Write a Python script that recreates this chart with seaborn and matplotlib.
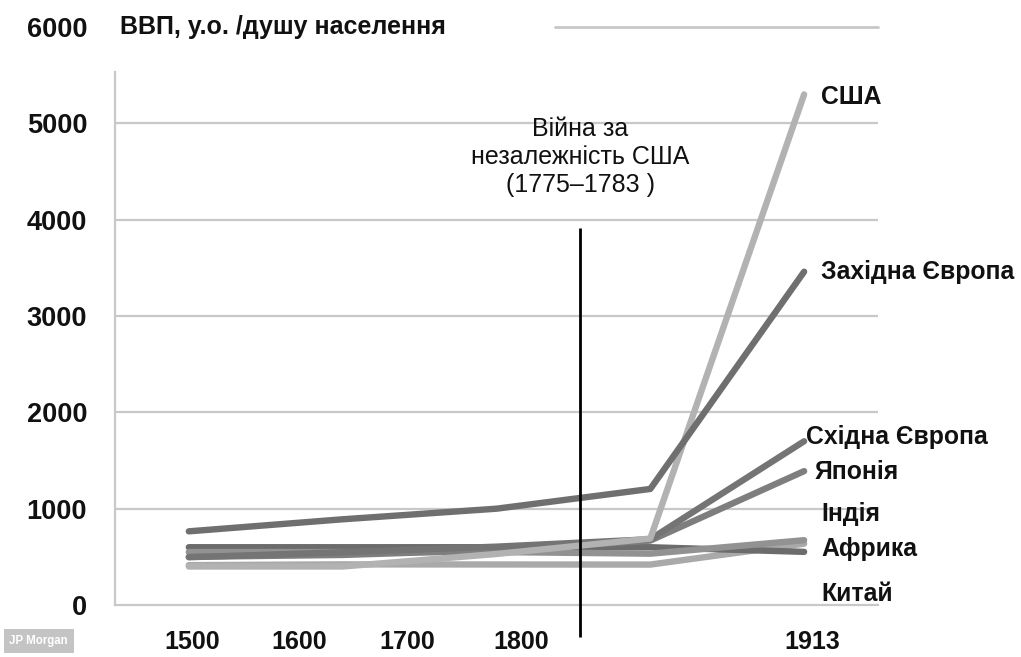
import numpy as np
import pandas as pd
import matplotlib
matplotlib.use("Agg")
import matplotlib.pyplot as plt
import seaborn as sns

# data (GDP per capita, by period)
years = ["1500", "1600", "1700", "1800", "1913"]
usa = [400, 400, 530, 690, 5300]
west_europe = [765, 890, 1000, 1205, 3460]
east_europe = [496, 548, 606, 683, 1700]
japan = [500, 520, 570, 669, 1390]
india = [550, 550, 550, 533, 673]
africa = [414, 422, 421, 420, 637]
china = [600, 600, 600, 600, 552]

regions = ["Африка", "Китай", "Індія", "Японія", "Східна Європа", "США", "Західна Європа"]
series = [africa, china, india, japan, east_europe, usa, west_europe]

colors = {
    "Африка": "#a9a9a9",
    "Китай": "#6c6c6c",
    "Індія": "#929292",
    "Японія": "#7e7e7e",
    "Східна Європа": "#747474",
    "США": "#b2b2b2",
    "Західна Європа": "#6f6f6f",
}

rows = []
for name, vals in zip(regions, series):
    for i, v in enumerate(vals):
        rows.append({"pos": i, "year": years[i], "region": name, "gdp": v})
df = pd.DataFrame(rows)

sns.set_style("white")
plt.rcParams["font.family"] = ["Liberation Sans", "DejaVu Sans"]

fig = plt.figure(figsize=(10.21, 6.57), dpi=100)
ax = fig.add_axes([0.1126, 0.0791, 0.7473, 0.8798])

sns.lineplot(data=df, x="pos", y="gdp", hue="region", hue_order=regions,
             palette=colors, linewidth=4.6, legend=False, ax=ax,
             solid_capstyle="round", sort=False)

ax.set_xlim(-0.48, 4.48)
ax.set_ylim(0, 6000)

# grid lines (top one only partly visible in the original)
for v in range(1000, 6000, 1000):
    ax.axhline(v, color="#c8c8c8", lw=1.6, zorder=0)
ax.axhline(6000, xmin=0.577, xmax=1, color="#c8c8c8", lw=2, clip_on=False, zorder=0)

for s in ["top", "right"]:
    ax.spines[s].set_visible(False)
ax.spines["left"].set_bounds(0, 5530)
ax.spines["left"].set_color("#c8c8c8")
ax.spines["bottom"].set_color("#c8c8c8")
ax.spines["left"].set_linewidth(1.6)
ax.spines["bottom"].set_linewidth(1.6)

ax.set_yticks(range(0, 6001, 1000))
ax.set_yticklabels([str(v) for v in range(0, 6001, 1000)], fontsize=19.5,
                   fontweight="bold", color="#111111")
# tick labels are shifted in the original picture
xtick_pos = [0.02, 0.72, 1.42, 2.16, 4.05]
ax.set_xticks(xtick_pos)
ax.set_xticklabels(years, fontsize=18, fontweight="bold", color="#111111")
ax.tick_params(axis="y", length=0, pad=20)
ax.tick_params(axis="x", length=0, pad=18)
ax.set_xlabel("")
ax.set_ylabel("")

ax.text(-0.45, 6000, "ВВП, у.о. /душу населення", fontsize=18, fontweight="bold",
        va="center", ha="left", clip_on=False, color="#111111")

# war marker
war_x = 2.545
ax.vlines(war_x, -330, 3915, color="black", lw=2, clip_on=False, zorder=5)
ax.text(war_x, 4650, "Війна за\nнезалежність США\n(1775–1783 )", fontsize=18,
        ha="center", va="center", linespacing=1.2, color="#111111")

# series labels on the right
label_spots = {
    "США": (4.11, 5270),
    "Західна Європа": (4.11, 3460),
    "Східна Європа": (4.01, 1745),
    "Японія": (4.065, 1380),
    "Індія": (4.11, 945),
    "Африка": (4.11, 580),
    "Китай": (4.11, 115),
}
for name, (lx, ly) in label_spots.items():
    ax.text(lx, ly, name, fontsize=17.8, fontweight="bold", ha="left", va="center",
            clip_on=False, color="#111111")

fig.text(0.038, 0.0245, "JP Morgan", fontsize=8.3, fontweight="bold", color="white",
         ha="center", va="center",
         bbox=dict(boxstyle="square,pad=0.5", fc="#c4c4c4", ec="none"))

fig.savefig("out.png", dpi=100)
